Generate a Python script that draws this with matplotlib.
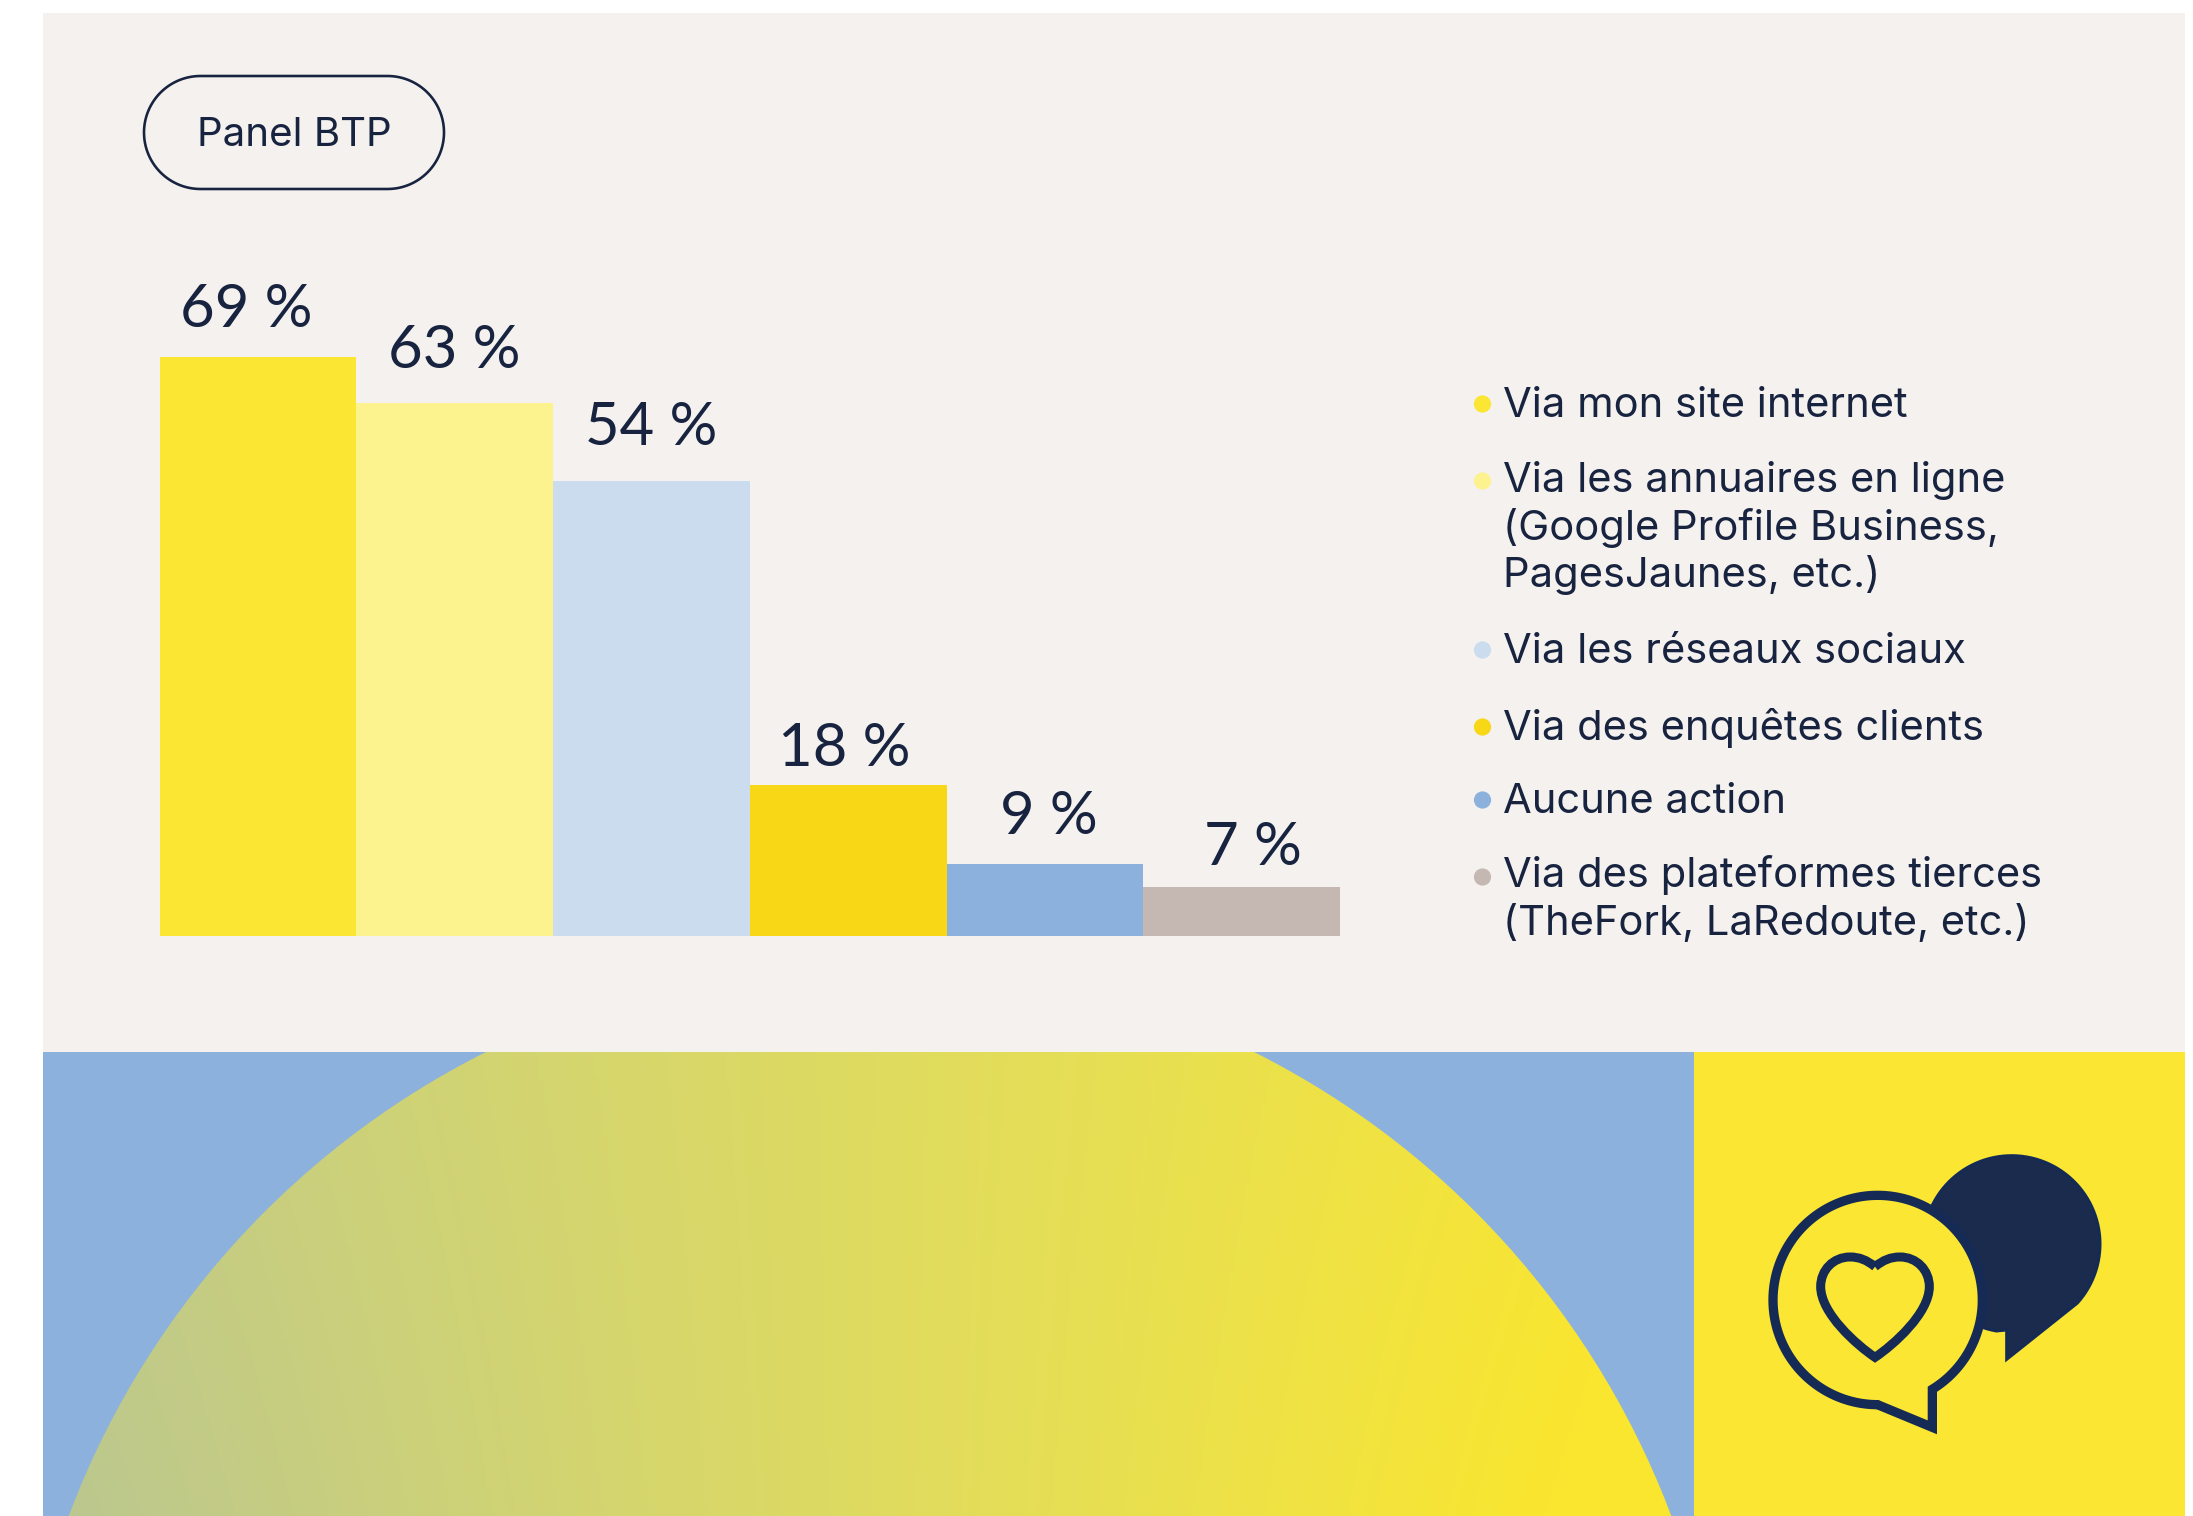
import numpy as np
import matplotlib
matplotlib.use('Agg')
import matplotlib.pyplot as plt
from matplotlib.colors import LinearSegmentedColormap
from matplotlib.patches import Circle, PathPatch, Polygon, Rectangle
from matplotlib.path import Path

plt.rcParams['font.family'] = ['Inter', 'DejaVu Sans']

# data
bar_names = ['Via mon site internet',
             'Via les annuaires en ligne\n(Google Profile Business,\nPagesJaunes, etc.)',
             'Via les réseaux sociaux',
             'Via des enquêtes clients',
             'Aucune action',
             'Via des plateformes tierces\n(TheFork, LaRedoute, etc.)']
bar_labels = ['69 %', '63 %', '54 %', '18 %', '9 %', '7 %']
bar_heights = [69, 63.5, 54.2, 18, 8.6, 5.8]  # as drawn
bar_colors = ['#FAE633', '#FCF38F', '#CBDCEF', '#F7D716', '#8DB1DD', '#C5B8B3']

INK = '#17233F'
NAVY = '#152A54'
PANEL = '#F4F1EE'
BLUE = '#8DB1DD'
YELLOW = '#FAE633'

W, H = 2193, 1516
px = 72 / 100  # one pixel in points

fig = plt.figure(figsize=(W / 100, H / 100), dpi=100, facecolor='white')

# page background, in pixel coordinates
bg = fig.add_axes([0, 0, 1, 1])
bg.axis('off')
bg.add_patch(Rectangle((43, 13), 2142, 1039, fc=PANEL, ec='none'))
bg.add_patch(Rectangle((43, 1052), 1651, 464, fc=BLUE, ec='none'))
bg.add_patch(Rectangle((1694, 1052), 491, 464, fc=YELLOW, ec='none'))

# big circle with its gradient
grad = LinearSegmentedColormap.from_list('g', ['#BBC78F', '#D2D472', '#E6DF55', '#FAE62F'])
gxx, gyy = np.meshgrid(np.linspace(0, 1, 400), np.linspace(0, 1, 200))
shade = gxx * (0.8 + 0.2 * gyy) + 0.1 * (1 - gyy)
im = bg.imshow(shade, extent=(60, 1680, 1516, 1052), cmap=grad,
               aspect='auto', vmin=0, vmax=0.92, zorder=2)
im.set_clip_path(Circle((870, 1817), 856, transform=bg.transData))
bg.set_xlim(0, W)
bg.set_ylim(H, 0)

# pill
a = np.radians(np.linspace(-90, 90, 60))
pill = [(387.5 + 56.5 * np.cos(v), 132.5 + 56.5 * np.sin(v)) for v in a] + \
       [(200.5 - 56.5 * np.cos(v), 132.5 - 56.5 * np.sin(v)) for v in a]
bg.add_patch(Polygon(pill, closed=True, fc='none', ec=INK, lw=2.6 * px))
bg.text(294, 146, 'Panel BTP', fontsize=29, color=INK, ha='center', va='baseline')

# bars
ax = fig.add_axes([159.5 / W, 1 - 936 / H, (1340 - 159.5) / W, (936 - 357) / H])
ax.patch.set_alpha(0)
xs = np.arange(len(bar_heights))
ax.bar(xs, bar_heights, width=1, color=bar_colors)
ax.set_xlim(-0.5, len(bar_heights) - 0.5)
ax.set_ylim(0, 69)
ax.axis('off')
label_dx = [-12, 0, 0, -4, 4, 11]
label_dy = [30, 35, 36, 19, 30, 22]
for i in xs:
    ax.annotate(bar_labels[i], (i, bar_heights[i]), xytext=(label_dx[i] * px, label_dy[i] * px),
                textcoords='offset points', ha='center', va='baseline', family=['Lato', 'DejaVu Sans'],
                fontsize=43, color=INK, annotation_clip=False)

# legend
first_base = [417, 492, 663, 740, 813, 887]
dot_y = [404, 481, 650, 727, 800, 877]
for name, c, by, dy in zip(bar_names, bar_colors, first_base, dot_y):
    bg.add_patch(Circle((1482.5, dy), 8.6, fc=c, ec='none'))
    for j, line in enumerate(name.split('\n')):
        bg.text(1503, by + j * 47.5, line, fontsize=30, color=INK, ha='left', va='baseline')


def ic(x, y):
    return 1700 + x / 3, 1120 + y / 3


arc = [ic(935 + 265 * np.cos(v), 372 + 265 * np.sin(v)) for v in np.radians(np.linspace(42, -260, 100))]
bg.add_patch(Polygon([ic(920, 630), ic(920, 718)] + arc, fc='#1B2B4E', ec=NAVY, lw=3 * px, zorder=3))

angs = np.radians(np.linspace(90, 418.5, 160))
ring = [ic(533 + 314 * np.cos(v), 540 + 314 * np.sin(v)) for v in angs]
bg.add_patch(Polygon(ring + [ic(697, 922), ic(535, 855)], fc=YELLOW, ec=NAVY, lw=9.3 * px,
                     joinstyle='miter', zorder=4))

heart = [(525, 440), (500, 420), (478, 411), (450, 411), (400, 411), (362, 450), (362, 500),
         (362, 580), (470, 675), (525, 712), (580, 675), (688, 580), (688, 500),
         (688, 450), (650, 411), (600, 411), (572, 411), (550, 420), (525, 440)]
codes = [Path.MOVETO] + [Path.CURVE4] * 18
bg.add_patch(PathPatch(Path([ic(*p) for p in heart], codes), fc='none', ec=NAVY, lw=9 * px,
                       joinstyle='miter', zorder=5))

fig.savefig('out.png', dpi=100, facecolor='white')
